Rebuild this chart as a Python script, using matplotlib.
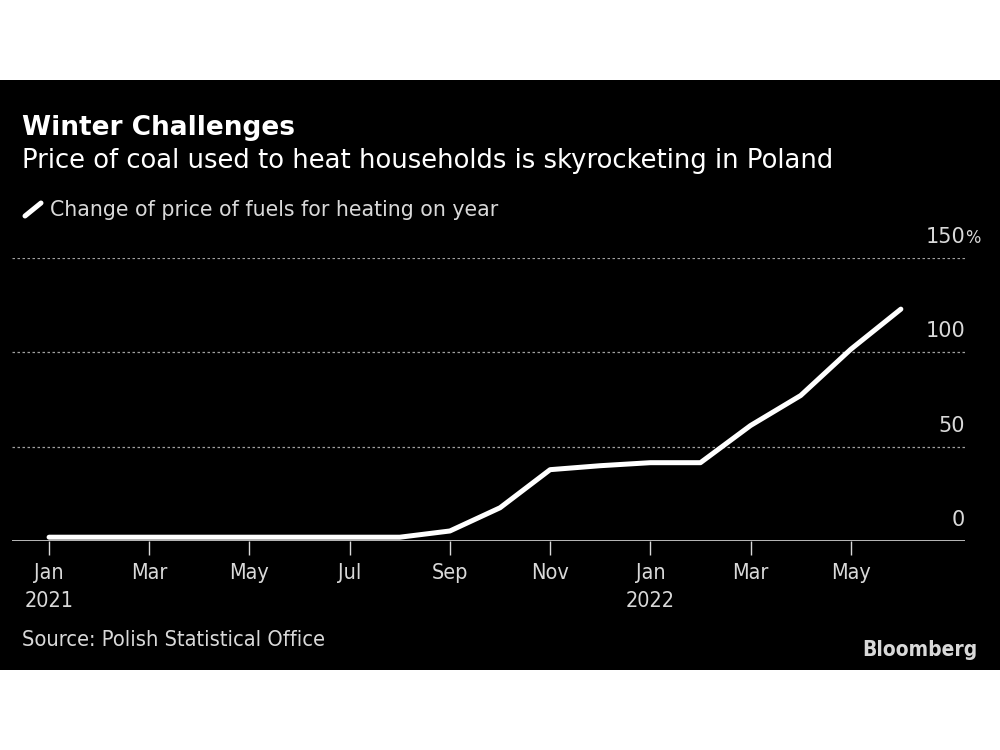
import matplotlib
matplotlib.use("Agg")
import matplotlib.pyplot as plt
from matplotlib.patches import Rectangle
import matplotlib.transforms as mtransforms

# Data: year-on-year change of price of fuels for heating (%), monthly Jan 2021 - Jun 2022
months = ["Jan 2021", "Feb 2021", "Mar 2021", "Apr 2021", "May 2021", "Jun 2021",
          "Jul 2021", "Aug 2021", "Sep 2021", "Oct 2021", "Nov 2021", "Dec 2021",
          "Jan 2022", "Feb 2022", "Mar 2022", "Apr 2022", "May 2022", "Jun 2022"]
values = [2, 2, 2, 2, 2, 2, 2, 2, 5.3, 17.6, 37.8, 39.9, 41.5, 41.5, 61.2, 77.1, 101.6, 122.9]

tick_pos = [0, 2, 4, 6, 8, 10, 12, 14, 16]
tick_labels = ["Jan\n2021", "Mar", "May", "Jul", "Sep", "Nov", "Jan\n2022", "Mar", "May"]
y_ticks = [0, 50, 100, 150]

grey = "#d9d9d9"
narrow = dict(family="DejaVu Sans", stretch="condensed")

fig = plt.figure(figsize=(10, 7.5), dpi=100)
fig.patch.set_facecolor("white")
fig.patches.append(Rectangle((0, 80 / 750), 1, 590 / 750, transform=fig.transFigure,
                             facecolor="black", edgecolor="none", zorder=-5))

ax = fig.add_axes([0.012, 0.2787, 0.953, 0.3773], zorder=2)
ax.set_facecolor("none")
x = list(range(len(months)))
ax.plot(x, values, color="white", lw=3.6, solid_capstyle="round", zorder=3)

ax.set_xlim(-0.74, 18.28)
ax.set_ylim(0, 150)
for s in ax.spines.values():
    s.set_visible(False)
ax.axhline(0, color=grey, lw=1.2, zorder=2)
for v in y_ticks[1:]:
    ax.axhline(v, color="#a0a0a0", lw=0.9, ls=(0, (2, 2)), zorder=1)

ax.set_yticks([])
ax.set_xticks(tick_pos)
ax.set_xticklabels(tick_labels, fontsize=15.5, color=grey, linespacing=1.5, va="top", **narrow)
ax.tick_params(axis="x", length=10, width=1, color=grey, pad=6)

# y labels on the right, above the gridlines
trans = mtransforms.blended_transform_factory(ax.transAxes, ax.transData)
off = mtransforms.offset_copy(trans, fig=fig, y=8, units="points")
for v in y_ticks:
    ax.text(1.0, v, str(v), transform=off, ha="right", va="bottom",
            fontsize=15, color=grey, family="DejaVu Sans")
ax.text(1.0, 150, "%", transform=off, ha="left", va="bottom",
        fontsize=13, color=grey, **narrow)

# titles
fig.text(0.022, 1 - 128 / 750, "Winter Challenges", fontsize=19, fontweight="bold",
         color="white", family="DejaVu Sans", va="center")
fig.text(0.022, 1 - 161 / 750, "Price of coal used to heat households is skyrocketing in Poland",
         fontsize=18.6, color="white", family="DejaVu Sans", va="center")

# legend
fig.add_artist(plt.Line2D([0.025, 0.041], [1 - 216 / 750, 1 - 203 / 750],
                          transform=fig.transFigure, color="white", lw=3.6,
                          solid_capstyle="round"))
fig.text(0.050, 1 - 210 / 750, "Change of price of fuels for heating on year",
         fontsize=14.8, color=grey, family="DejaVu Sans", va="center")

# footer
fig.text(0.022, 1 - 640 / 750, "Source: Polish Statistical Office", fontsize=15.7,
         color=grey, va="center", **narrow)
fig.text(0.978, 1 - 650 / 750, "Bloomberg", fontsize=15, fontweight="bold",
         color=grey, va="center", ha="right", **narrow)

fig.savefig("out.png", dpi=100, facecolor=fig.get_facecolor())
